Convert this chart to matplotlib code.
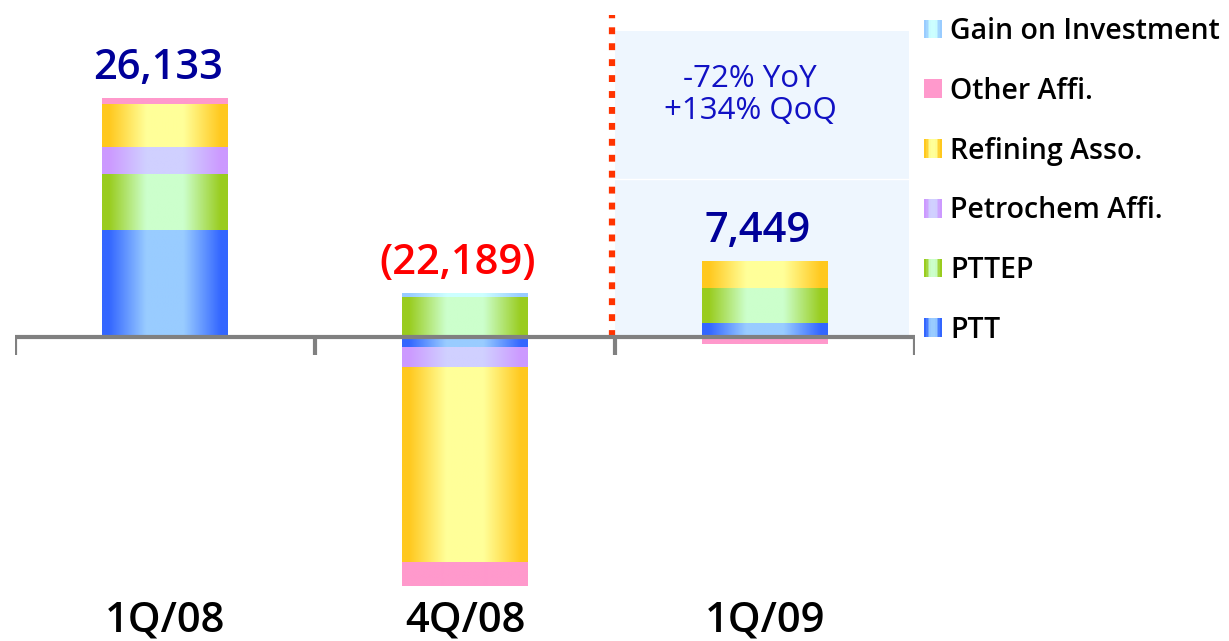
import numpy as np
import matplotlib
matplotlib.use("Agg")
import matplotlib.pyplot as plt
from matplotlib.colors import to_rgb
from matplotlib.patches import Patch, Rectangle
from matplotlib.legend_handler import HandlerBase

plt.rcParams['font.family'] = ['Open Sans', 'DejaVu Sans']

# data (Million Baht)
categories = ['1Q/08', '4Q/08', '1Q/09']
totals = [26133, -22189, 7449]
ptt = [11750, -1100, 1530]
pttep = [6100, 4380, 3830]
petrochem = [2980, -2270, 0]
refining = [4700, -21280, 2900]
other = [603, -2600, -810]
gain = [0, 330, 0]
growth_text = '-72% YoY\n+134% QoQ'

# stacking order from zero outward, with (edge, middle) gradient colours
series = [
    ('PTT', ptt, '#3366ff', '#99ccff'),
    ('PTTEP', pttep, '#99cc1e', '#ccffcc'),
    ('Petrochem Affi.', petrochem, '#cc99ff', '#d0d0ff'),
    ('Refining Asso.', refining, '#ffc81e', '#ffff99'),
    ('Other Affi.', other, '#ff99cc', '#ff99cc'),
    ('Gain on Investment', gain, '#99ccff', '#ccffff'),
]


def gradient(edge, mid, n=80):
    x = np.linspace(0, 1, n)
    t = np.abs(x - 0.5) * 2
    w = np.clip((t - 0.3) / 0.6, 0, 1)[:, None]
    return np.array(to_rgb(mid)) * (1 - w) + np.array(to_rgb(edge)) * w


class GradHandler(HandlerBase):
    def __init__(self, edge, mid):
        super().__init__()
        self.cols = gradient(edge, mid, 10)

    def create_artists(self, legend, orig_handle, xdescent, ydescent,
                       width, height, fontsize, trans):
        n = len(self.cols)
        arts = []
        for i, c in enumerate(self.cols):
            arts.append(Rectangle((-xdescent + i * width / n, -ydescent),
                                  width / n + 0.3, height, facecolor=c,
                                  edgecolor='none', transform=trans))
        return arts


W, H = 1229, 641
fig = plt.figure(figsize=(W / 100, H / 100), dpi=100)
ax = fig.add_axes([15 / W, 0, 900 / W, 1])

k = 109.5  # data units per pixel
zero_px = 337
ylo, yhi = -(H - zero_px) * k, zero_px * k

x = np.arange(len(categories))
bw = 0.42

# shaded box and divider for the latest quarter
ax.fill_between([1.5, 2.48], 0, (zero_px - 31) * k, color='#eef6fe', zorder=0, lw=0)
ax.plot([1.5, 2.48], [(zero_px - 179) * k] * 2, color='white', lw=1, zorder=0.5)
ax.plot([1.49, 1.49], [0, (zero_px - 15) * k], color='#ff3300', lw=4.5,
        dashes=(1.1, 1.45), solid_capstyle='butt', dash_capstyle='butt', zorder=1)
ax.text(1.95, (zero_px - 95) * k, growth_text, ha='center', va='center',
        fontsize=22.5, fontweight='medium', color='#1111c4', linespacing=1.08, zorder=3)

pos = np.zeros(len(categories))
neg = np.zeros(len(categories))
handles = []
hmap = {}
for name, vals, edge, mid in series:
    img = gradient(edge, mid)[None, :, :]
    for i, v in enumerate(vals):
        if v == 0:
            continue
        if v > 0:
            y0, y1 = pos[i], pos[i] + v
            pos[i] += v
        else:
            y0, y1 = neg[i] + v, neg[i]
            neg[i] += v
        ax.imshow(img, extent=[x[i] - bw / 2, x[i] + bw / 2, y0, y1],
                  aspect='auto', interpolation='bilinear', zorder=2)
    h = Patch(label=name)
    handles.append(h)
    hmap[h] = GradHandler(edge, mid)

# axis line with category separators
ax.axhline(0, color='#808080', lw=3, zorder=4)
ax.vlines(np.arange(len(categories) + 1) - 0.5, -18 * k, 0, color='#808080', lw=3, zorder=4)

for i, t in enumerate(totals):
    lab = f'{t:,}' if t >= 0 else f'({-t:,})'
    col = '#000099' if t >= 0 else '#ff0000'
    ax.annotate(lab, (x[i], pos[i]), xytext=(-5, 22), textcoords='offset points',
                ha='center', va='center', fontsize=30, fontweight='semibold',
                color=col, zorder=5)
    ax.text(x[i], (zero_px - 621) * k, categories[i], ha='center', va='center',
            fontsize=30, fontweight='semibold', color='black')

ax.set_xlim(-0.5, 2.5)
ax.set_ylim(ylo, yhi)
ax.axis('off')

ax.legend(handles=handles[::-1], handler_map=hmap, loc='upper left',
          bbox_to_anchor=(909 / 900, 1 - 17 / H), frameon=False,
          prop={'size': 20.5, 'weight': 'semibold'},
          handlelength=0.63, handleheight=0.63, handletextpad=0.28,
          labelspacing=1.08, borderpad=0, borderaxespad=0)

fig.savefig('out.png', dpi=100)
